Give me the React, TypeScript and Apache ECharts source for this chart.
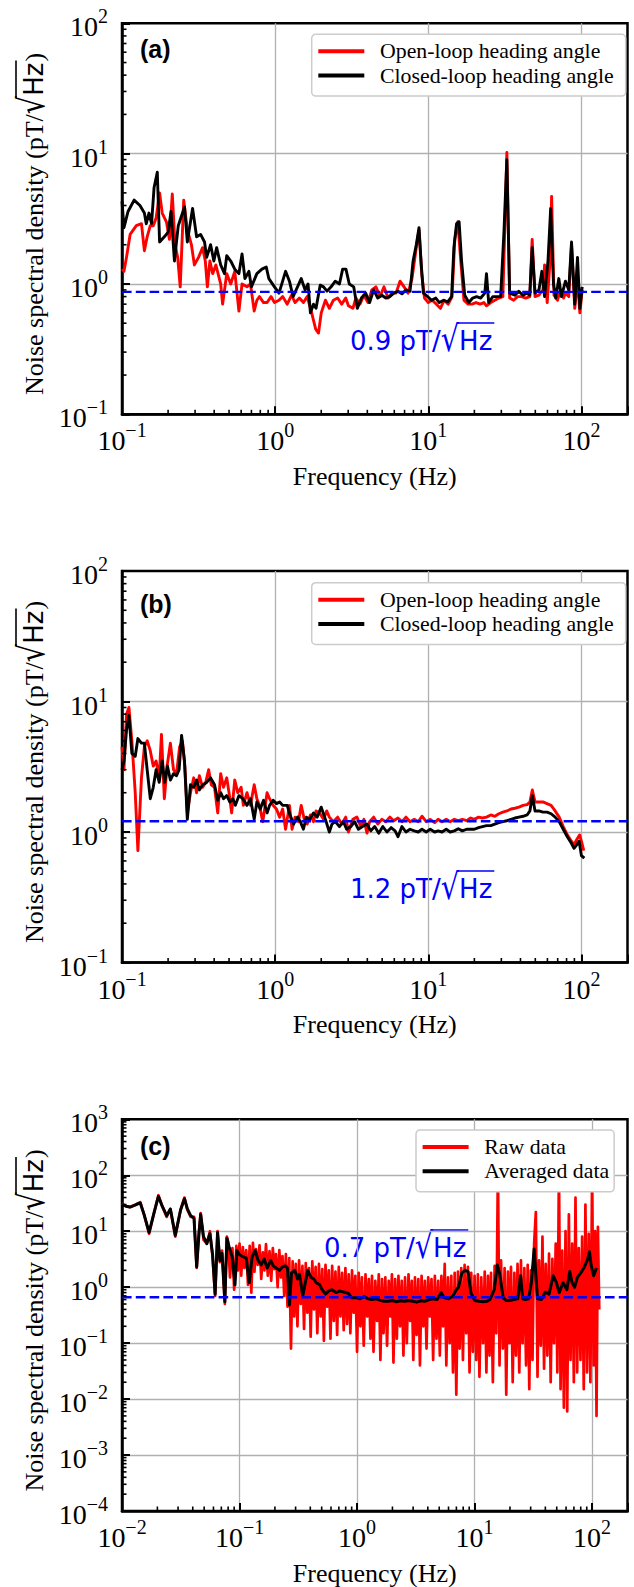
import React, { useEffect, useRef } from "react";
import * as echarts from "echarts";

// ---------------- data ----------------
const openLoopA = [
  [0.1, 1.3], [0.103, 1.25], [0.107, 1.6], [0.113, 2.4], [0.124, 2.8], [0.134, 2.9], [0.14, 1.8], [0.146, 2.3],
  [0.153, 2.8], [0.16, 2.8], [0.167, 3.2], [0.176, 5.0], [0.183, 3.5], [0.195, 3.0], [0.204, 2.2], [0.213, 4.9],
  [0.222, 2.0], [0.231, 1.6], [0.24, 0.95], [0.253, 4.4], [0.267, 2.6], [0.284, 2.0], [0.297, 1.4], [0.316, 1.6],
  [0.336, 1.9], [0.35, 1.5], [0.361, 0.95], [0.375, 1.5], [0.391, 1.2], [0.41, 1.4], [0.441, 1.0], [0.454, 0.7],
  [0.483, 1.2], [0.513, 1.0], [0.545, 1.25], [0.58, 0.62], [0.608, 1.0], [0.655, 0.95], [0.69, 1.0], [0.73, 0.62],
  [0.76, 0.75], [0.79, 0.8], [0.84, 0.72], [0.886, 0.72], [0.94, 0.8], [0.99, 0.72], [1.06, 0.75], [1.12, 0.8],
  [1.2, 0.7], [1.28, 0.82], [1.35, 0.72], [1.44, 0.78], [1.53, 0.72], [1.62, 0.8], [1.72, 0.62], [1.84, 0.45],
  [1.92, 0.42], [2.0, 0.6], [2.13, 0.75], [2.26, 0.65], [2.4, 0.75], [2.56, 0.78], [2.72, 0.7], [2.89, 0.78],
  [3.01, 0.68], [3.22, 0.65], [3.37, 0.78], [3.58, 0.7], [3.8, 0.82], [4.04, 0.72], [4.28, 0.9], [4.55, 0.95],
  [4.84, 0.8], [5.14, 0.95], [5.46, 0.78], [5.79, 0.85], [6.16, 0.85], [6.54, 1.05], [6.95, 0.95], [7.38, 0.85],
  [7.83, 1.1], [8.35, 1.9], [8.7, 2.6], [9.06, 1.2], [9.45, 0.78], [10, 0.72], [10.6, 0.75], [11.3, 0.7],
  [12, 0.65], [12.7, 0.75], [13.5, 0.7], [14.3, 0.8], [14.9, 2.2], [15.6, 3.0], [16.3, 1.5], [17.1, 0.75],
  [18.2, 0.7], [19.3, 0.7], [20.5, 0.72], [21.8, 0.7], [23.1, 0.72], [24, 0.68], [25.6, 0.72], [27.2, 0.75],
  [28.9, 0.78], [30.7, 0.8], [31.7, 3.0], [32.6, 10.2], [34, 0.78], [36.1, 0.75], [38.3, 0.8], [40.7, 0.8],
  [43.3, 0.78], [46, 0.8], [47.7, 2.2], [49.8, 0.8], [52.8, 0.82], [56.1, 0.9], [57.5, 1.4], [59.8, 0.72],
  [62.4, 1.5], [63.9, 4.7], [66.2, 0.82], [69.8, 0.75], [73.1, 0.9], [76.5, 0.78], [78.7, 0.85], [82.7, 0.8],
  [86.2, 2.0], [90.5, 0.65], [94.3, 1.1], [97.7, 0.6], [101.2, 0.9],
];

const closedLoopA = [
  [0.1, 4.3], [0.103, 2.7], [0.1095, 3.6], [0.12, 4.4], [0.131, 4.0], [0.14, 3.5], [0.144, 2.9], [0.15, 3.5],
  [0.156, 2.9], [0.162, 5.5], [0.17, 7.2], [0.176, 2.1], [0.189, 2.3], [0.2, 2.5], [0.209, 3.6], [0.22, 1.5],
  [0.233, 2.8], [0.256, 3.9], [0.267, 2.1], [0.289, 3.8], [0.307, 2.3], [0.326, 2.4], [0.346, 2.1], [0.357, 1.6],
  [0.379, 2.0], [0.398, 1.5], [0.415, 1.9], [0.441, 1.4], [0.467, 1.2], [0.483, 1.65], [0.513, 1.5], [0.545, 1.3],
  [0.58, 1.2], [0.608, 1.7], [0.635, 1.1], [0.674, 1.25], [0.7, 0.95], [0.76, 1.2], [0.82, 1.3], [0.875, 1.35],
  [0.91, 1.1], [0.99, 0.95], [1.06, 0.85], [1.17, 1.25], [1.24, 1.05], [1.31, 0.8], [1.4, 0.95], [1.48, 1.1],
  [1.57, 0.9], [1.64, 1.0], [1.7, 0.6], [1.78, 0.7], [1.85, 0.65], [1.97, 0.98], [2.07, 0.95], [2.18, 0.88],
  [2.32, 0.95], [2.47, 1.05], [2.63, 1.0], [2.76, 1.3], [2.9, 1.3], [3.05, 1.0], [3.26, 0.95], [3.44, 0.65],
  [3.66, 0.78], [3.9, 0.85], [4.14, 0.72], [4.4, 0.9], [4.68, 0.78], [4.97, 0.82], [5.28, 0.78], [5.61, 0.8],
  [5.95, 0.85], [6.34, 0.88], [6.73, 0.84], [7.15, 0.9], [7.6, 0.88], [7.96, 1.5], [8.35, 2.0], [8.7, 2.7],
  [9.0, 1.4], [9.3, 0.85], [9.9, 0.8], [10.5, 0.75], [11.2, 0.78], [11.8, 0.72], [12.6, 0.75], [13.4, 0.73],
  [14.2, 0.8], [14.7, 1.9], [15.3, 2.9], [15.9, 3.0], [16.5, 1.5], [17.3, 0.82], [18.4, 0.72], [19.5, 0.78],
  [20.7, 0.8], [22, 0.78], [23.4, 0.85], [24, 1.2], [24.8, 0.72], [26.4, 0.8], [28, 0.8], [29.7, 0.8],
  [31.2, 2.5], [32.6, 9.0], [34, 0.85], [36.8, 0.82], [39, 0.88], [41.5, 0.82], [44, 0.85], [46, 0.82],
  [47.7, 1.9], [49.8, 0.85], [52.8, 0.9], [55.2, 1.25], [57.5, 0.8], [60.5, 1.5], [63, 3.8], [65.7, 1.0],
  [68, 0.78], [71.2, 1.1], [74, 0.8], [78.7, 1.05], [82.7, 0.9], [86.2, 2.1], [90.5, 0.7], [94.3, 1.6],
  [97.7, 0.65], [101.2, 0.95],
];

const openLoopB = [
  [0.1, 4.5], [0.103, 3.0], [0.107, 8.0], [0.111, 9.0], [0.116, 5.0], [0.122, 2.0], [0.127, 0.72], [0.134, 2.6],
  [0.14, 4.5], [0.146, 5.0], [0.153, 4.2], [0.16, 3.2], [0.167, 3.5], [0.175, 2.6], [0.181, 5.6], [0.189, 1.8],
  [0.197, 3.2], [0.207, 4.8], [0.217, 3.0], [0.227, 2.8], [0.238, 4.5], [0.248, 5.0], [0.257, 3.2], [0.267, 1.4],
  [0.28, 2.0], [0.294, 2.6], [0.307, 2.0], [0.32, 2.7], [0.336, 2.2], [0.352, 2.4], [0.368, 3.0], [0.383, 2.3],
  [0.402, 2.2], [0.422, 1.4], [0.441, 2.8], [0.46, 2.2], [0.483, 2.6], [0.5, 2.0], [0.52, 1.4], [0.545, 2.5],
  [0.57, 2.0], [0.6, 2.2], [0.62, 1.6], [0.655, 2.0], [0.69, 1.6], [0.73, 2.3], [0.76, 1.8], [0.79, 1.6],
  [0.83, 1.2], [0.886, 2.0], [0.92, 1.8], [0.97, 1.6], [1.02, 1.5], [1.07, 1.3], [1.12, 1.5], [1.17, 1.05],
  [1.24, 1.6], [1.29, 1.05], [1.35, 1.3], [1.42, 1.2], [1.48, 1.6], [1.55, 1.25], [1.62, 1.15], [1.7, 1.35],
  [1.78, 1.2], [1.85, 1.45], [1.95, 1.4], [2.07, 1.25], [2.17, 1.45], [2.26, 1.3], [2.4, 1.2], [2.56, 1.3],
  [2.72, 1.15], [2.89, 1.3], [3.01, 1.0], [3.22, 1.25], [3.42, 1.3], [3.63, 1.1], [3.8, 1.25], [3.98, 0.98],
  [4.14, 1.2], [4.4, 1.3], [4.68, 1.15], [4.97, 1.25], [5.28, 1.2], [5.61, 1.3], [5.95, 1.22], [6.34, 1.28],
  [6.73, 1.2], [7.15, 1.3], [7.6, 1.2], [8.1, 1.25], [8.6, 1.2], [9.1, 1.32], [9.7, 1.2], [10.3, 1.25],
  [11, 1.18], [11.6, 1.25], [12.3, 1.2], [13.1, 1.25], [13.9, 1.2], [14.8, 1.25], [15.7, 1.22], [16.7, 1.25],
  [17.8, 1.22], [18.9, 1.28], [20, 1.25], [21.3, 1.3], [22.6, 1.28], [24, 1.3], [25.6, 1.35], [27.2, 1.32],
  [28.9, 1.38], [30.7, 1.42], [32.6, 1.45], [34.7, 1.5], [36.8, 1.52], [39.1, 1.55], [41.6, 1.6], [44.2, 1.62],
  [46.1, 1.7], [47.8, 2.1], [49.8, 1.7], [52.8, 1.7], [56.1, 1.7], [59.6, 1.65], [63.4, 1.6], [67.4, 1.45],
  [71.6, 1.3], [76.1, 1.1], [80.9, 0.95], [86, 0.85], [89.5, 0.8], [93.5, 0.88], [97.3, 0.95], [100, 0.85],
  [103.6, 0.72],
];

const closedLoopB = [
  [0.1, 3.0], [0.103, 3.5], [0.107, 6.0], [0.111, 7.8], [0.116, 4.0], [0.122, 3.8], [0.127, 5.2], [0.134, 4.8],
  [0.14, 4.8], [0.146, 3.0], [0.153, 1.8], [0.16, 2.2], [0.167, 3.0], [0.175, 2.4], [0.183, 3.5], [0.19, 2.4],
  [0.198, 3.2], [0.207, 2.5], [0.217, 2.8], [0.227, 2.7], [0.236, 3.0], [0.245, 5.5], [0.256, 3.5], [0.267, 1.25],
  [0.28, 2.3], [0.294, 2.2], [0.307, 2.5], [0.32, 2.1], [0.336, 2.3], [0.357, 2.4], [0.379, 2.6], [0.402, 2.3],
  [0.422, 1.75], [0.441, 2.0], [0.46, 1.8], [0.483, 1.9], [0.506, 1.7], [0.53, 1.8], [0.55, 1.6], [0.58, 1.9],
  [0.615, 1.8], [0.655, 1.6], [0.69, 1.8], [0.73, 1.25], [0.76, 1.7], [0.8, 1.5], [0.84, 1.75], [0.886, 1.4],
  [0.92, 1.6], [0.97, 1.75], [1.02, 1.65], [1.07, 1.7], [1.12, 1.6], [1.2, 1.6], [1.25, 1.35], [1.32, 1.15],
  [1.4, 1.3], [1.46, 1.2], [1.53, 1.05], [1.6, 1.3], [1.68, 1.25], [1.78, 1.4], [1.88, 1.3], [2.0, 1.55],
  [2.13, 1.25], [2.26, 1.0], [2.35, 1.15], [2.47, 1.2], [2.63, 1.1], [2.79, 1.2], [2.93, 1.05], [3.12, 1.1],
  [3.3, 1.2], [3.5, 1.05], [3.72, 1.1], [3.98, 1.15], [4.21, 1.02], [4.47, 1.1], [4.75, 0.98], [5.05, 1.1],
  [5.37, 1.0], [5.72, 1.08], [6.07, 1.02], [6.34, 0.92], [6.73, 1.1], [7.15, 1.0], [7.6, 1.05], [8.1, 1.02],
  [8.6, 1.0], [9.1, 1.05], [9.7, 1.0], [10.3, 1.05], [11, 1.0], [11.6, 1.02], [12.3, 1.0], [13.1, 1.05],
  [13.9, 1.0], [14.8, 1.02], [15.7, 1.06], [16.7, 1.02], [17.8, 1.05], [18.9, 1.05], [20, 1.05], [21.3, 1.08],
  [22.6, 1.1], [24, 1.12], [25.6, 1.12], [27.2, 1.15], [28.9, 1.18], [30.7, 1.2], [32.6, 1.22], [34.7, 1.25],
  [36.8, 1.28], [39.1, 1.3], [41.6, 1.32], [44.2, 1.35], [46.1, 1.45], [47.8, 1.9], [49.8, 1.45], [52.8, 1.45],
  [56.1, 1.42], [59.6, 1.42], [63.4, 1.38], [67.4, 1.3], [71.6, 1.2], [76.1, 1.05], [80.9, 0.92], [86, 0.82],
  [89.5, 0.75], [93.5, 0.8], [96.7, 0.85], [100, 0.66], [104.5, 0.63],
];

const rawDataC = [
  [0.01, 31], [0.0108, 28], [0.0117, 27], [0.0132, 30], [0.0143, 33], [0.0154, 20], [0.017, 9], [0.0188, 22],
  [0.0204, 44], [0.022, 28], [0.024, 18], [0.0258, 25], [0.0284, 8], [0.0315, 24], [0.034, 40], [0.036, 24],
  [0.0384, 18], [0.041, 18], [0.0432, 2.2], [0.045, 9], [0.0467, 21], [0.0494, 7], [0.0527, 6], [0.056, 10],
  [0.059, 3.5], [0.062, 0.7], [0.065, 10], [0.068, 2.8], [0.071, 4.5], [0.075, 0.5], [0.078, 8],
  [0.08, 6.5], [0.083, 1.5], [0.087, 5.0], [0.09, 0.9], [0.094, 5.5], [0.097, 2.0],
  [0.1, 6.0], [0.1033, 1.6], [0.1067, 5.2], [0.11, 2.2], [0.114, 4.6], [0.118, 1.1], [0.122, 5.5], [0.126, 0.8],
  [0.13, 6.2], [0.134, 1.9], [0.138, 4.8], [0.143, 2.5], [0.148, 5.6], [0.153, 1.4], [0.158, 4.2], [0.163, 2.0],
  [0.168, 5.9], [0.174, 1.6], [0.18, 4.4], [0.186, 1.3], [0.192, 5.0], [0.198, 2.1], [0.204, 3.9], [0.211, 1.0],
  [0.218, 4.6], [0.225, 1.5], [0.232, 3.6], [0.24, 0.7], [0.248, 3.9], [0.256, 0.45], [0.265, 3.3], [0.274, 0.08],
  [0.283, 2.9], [0.292, 0.3], [0.301, 2.6], [0.311, 0.2], [0.321, 3.0], [0.332, 0.5], [0.343, 2.4], [0.354, 0.18],
  [0.366, 2.7], [0.378, 0.35], [0.39, 2.2], [0.403, 0.13], [0.416, 2.9], [0.43, 0.4], [0.444, 2.3], [0.459, 0.15],
  [0.474, 2.6], [0.49, 0.3], [0.506, 2.1], [0.522, 0.11], [0.539, 2.5], [0.557, 0.45], [0.575, 2.0], [0.594, 0.12],
  [0.614, 2.4], [0.634, 0.25], [0.655, 1.9], [0.677, 0.14], [0.699, 2.3], [0.722, 0.3], [0.746, 1.8], [0.77, 0.17],
  [0.796, 2.2], [0.822, 0.22], [0.849, 1.7], [0.877, 0.15], [0.906, 2.0], [0.936, 0.35], [0.967, 1.6],
  [1.0, 0.07], [1.033, 1.8], [1.067, 0.2], [1.1, 1.5], [1.14, 0.09], [1.18, 1.7], [1.22, 0.3], [1.26, 1.4],
  [1.3, 0.12], [1.34, 1.6], [1.38, 0.07], [1.43, 1.3], [1.48, 0.25], [1.53, 1.7], [1.58, 0.05], [1.63, 1.4],
  [1.68, 0.15], [1.74, 1.5], [1.8, 0.09], [1.86, 1.3], [1.92, 0.3], [1.98, 1.7], [2.04, 0.045], [2.11, 1.4],
  [2.18, 0.12], [2.25, 1.6], [2.32, 0.2], [2.4, 1.3], [2.48, 0.06], [2.56, 1.5], [2.65, 0.1], [2.74, 1.7],
  [2.83, 0.25], [2.92, 1.3], [3.01, 0.05], [3.11, 1.5], [3.21, 0.14], [3.32, 1.4], [3.43, 0.04], [3.54, 1.6],
  [3.66, 0.2], [3.78, 1.3], [3.9, 0.08], [4.03, 1.5], [4.16, 0.3], [4.3, 1.4], [4.44, 0.05], [4.59, 1.6],
  [4.74, 0.12], [4.9, 1.3], [5.06, 0.06], [5.22, 1.6], [5.39, 0.2], [5.57, 2.6], [5.75, 0.04], [5.94, 1.5],
  [6.14, 0.1], [6.34, 1.6], [6.55, 0.03], [6.77, 1.8], [6.99, 0.012], [7.22, 1.9], [7.46, 0.08], [7.7, 2.2],
  [7.96, 0.05], [8.22, 2.5], [8.49, 0.15], [8.77, 2.3], [9.06, 0.03], [9.36, 1.8], [9.67, 0.07],
  [10.0, 1.6], [10.33, 0.05], [10.67, 1.7], [11.0, 0.025], [11.4, 1.5], [11.8, 0.1], [12.2, 1.9], [12.6, 0.03],
  [13.0, 1.6], [13.4, 0.06], [13.8, 1.8], [14.3, 0.02], [14.8, 2.4], [15.3, 0.15], [15.8, 150], [16.3, 0.04],
  [16.8, 3.0], [17.4, 0.08], [18.0, 2.2], [18.6, 0.012], [19.2, 1.9], [19.8, 0.1], [20.4, 2.3], [21.1, 0.02],
  [21.8, 1.8], [22.5, 0.06], [23.2, 2.6], [24.0, 0.03], [24.8, 3.0], [25.6, 0.1], [26.5, 2.2], [27.4, 0.04],
  [28.3, 2.5], [29.2, 0.015], [30.1, 2.0], [31.1, 0.05], [32.1, 6.0], [33.2, 22], [34.3, 0.025], [35.4, 3.0],
  [36.6, 0.09], [37.8, 8.0], [39.0, 0.035], [40.3, 2.6], [41.6, 0.06], [43.0, 4.0], [44.4, 0.02], [45.9, 3.2],
  [47.4, 0.1], [49.0, 6.0], [50.6, 0.03], [52.2, 150], [53.9, 0.015], [55.7, 4.5], [57.5, 0.007], [59.4, 10],
  [61.4, 0.006], [63.4, 20], [65.5, 0.05], [67.7, 6.0], [69.9, 0.02], [72.2, 40], [74.6, 0.03], [77.0, 5.0],
  [79.6, 0.05], [82.2, 8.0], [84.9, 0.015], [87.7, 30], [90.6, 0.03], [93.6, 9.0], [96.7, 0.02], [100, 120],
  [103, 0.04], [106, 10], [109, 0.005], [112, 12], [115, 0.4],
];

const averagedDataC = [
  [0.01, 30], [0.0108, 28], [0.0117, 27], [0.0132, 30], [0.0143, 32], [0.0154, 20], [0.017, 9.5], [0.0188, 22],
  [0.0204, 42], [0.022, 28], [0.024, 19], [0.0258, 25], [0.0284, 8.5], [0.0315, 24], [0.034, 38], [0.036, 25],
  [0.0384, 19], [0.041, 17], [0.0432, 2.3], [0.045, 8], [0.0467, 20], [0.0494, 8], [0.0527, 6], [0.056, 9],
  [0.059, 3.8], [0.062, 0.75], [0.065, 9.5], [0.068, 3.0], [0.071, 4], [0.075, 0.55], [0.078, 7.5], [0.082, 5.0],
  [0.0866, 3.5], [0.0915, 1.1], [0.095, 4.5], [0.1, 3.8], [0.107, 3.5], [0.114, 3.3], [0.121, 1.2], [0.128, 3.5],
  [0.136, 4.5], [0.144, 3.0], [0.153, 2.5], [0.162, 3.2], [0.172, 2.2], [0.184, 3.0], [0.194, 2.4], [0.205, 2.2],
  [0.219, 2.0], [0.231, 2.3], [0.246, 2.4], [0.256, 2.2], [0.266, 0.48], [0.277, 1.8], [0.295, 2.0], [0.312, 1.4],
  [0.324, 1.7], [0.345, 0.7], [0.357, 1.0], [0.38, 2.0], [0.405, 1.5], [0.428, 1.4], [0.45, 1.2], [0.48, 1.1],
  [0.505, 0.9], [0.54, 0.75], [0.57, 0.85], [0.61, 0.9], [0.66, 0.8], [0.71, 0.85], [0.77, 0.82], [0.84, 0.78],
  [0.9, 0.65], [0.98, 0.65], [1.06, 0.62], [1.15, 0.68], [1.24, 0.62], [1.34, 0.6], [1.45, 0.62], [1.58, 0.58],
  [1.7, 0.56], [1.85, 0.56], [2.0, 0.58], [2.16, 0.55], [2.34, 0.57], [2.54, 0.56], [2.75, 0.58], [2.97, 0.56],
  [3.22, 0.54], [3.48, 0.57], [3.77, 0.56], [4.1, 0.6], [4.4, 0.62], [4.8, 0.6], [5.2, 0.8], [5.5, 0.65],
  [6.0, 0.62], [6.5, 0.68], [7.0, 0.9], [7.3, 1.0], [7.8, 1.8], [8.3, 2.0], [8.8, 1.9], [9.3, 0.8],
  [10, 0.58], [10.9, 0.56], [11.8, 0.55], [12.8, 0.56], [13.5, 0.6], [14.7, 0.9], [15.6, 2.5], [16.3, 1.8],
  [17.5, 0.65], [18.5, 0.58], [20, 0.58], [21.6, 0.6], [23.3, 0.62], [24.6, 1.6], [25.7, 0.62], [27, 0.6],
  [28.8, 0.62], [30.4, 1.2], [32.1, 4.8], [34.3, 0.62], [37, 0.6], [40, 0.82], [43, 0.75], [46.7, 1.6],
  [49.7, 1.2], [52.5, 0.8], [56.6, 1.2], [61, 0.9], [64.5, 1.9], [67.6, 1.2], [71, 1.0], [75, 1.5],
  [80, 1.8], [85, 2.2], [91, 3.0], [95, 4.3], [98, 2.5], [103, 1.6], [109, 2.2],
];

const floorA = 0.87;
const floorB = 1.21;
const floorC = 0.66;
const floorTexts = ["0.9 pT/√Hz", "1.2 pT/√Hz", "0.7 pT/√Hz"];
const legendNamesAB = ["Open-loop heading angle", "Closed-loop heading angle"];
const legendNamesC = ["Raw data", "Averaged data"];
const panelTags = ["(a)", "(b)", "(c)"];
const xAxisTitle = "Frequency (Hz)";
const yAxisTitleMain = "Noise spectral density (pT/";
const yAxisTitleUnit = "√Hz";
const yAxisTitleEnd = ")";

// ---------------- layout / style ----------------
const SERIF = "Liberation Serif, Times New Roman, serif";
const SANS = "DejaVu Sans, sans-serif";
const ARIAL = "Liberation Sans, Arial, sans-serif";
const RED = "#ff0000";
const BLACK = "#000000";
const BLUE = "#0000ff";
const GRID_LEFT = 122;
const GRID_WIDTH = 505.5;
const ROOT_SIZE = 36;      // enlarged radical glyph
const ROOT_SCALE_X = 0.8;  // narrowed radical

const panels = [
  { top: 23.3, height: 391, xMin: 0.1, xMax: 200, yMin: 0.1, yMax: 100, tagCy: 48.8, noteX: 350, noteBase: 350,
    legendLeft: 311.7, legendTop: 34.3, legendPadR: 12, yTitleCy: 224.5, names: legendNamesAB,
    series: [openLoopA, closedLoopA], widths: [2.9, 2.9], floor: floorA },
  { top: 571, height: 391.5, xMin: 0.1, xMax: 200, yMin: 0.1, yMax: 100, tagCy: 604, noteX: 350, noteBase: 898,
    legendLeft: 311.7, legendTop: 582.7, legendPadR: 12, yTitleCy: 772.5, names: legendNamesAB,
    series: [openLoopB, closedLoopB], widths: [2.9, 2.9], floor: floorB },
  { top: 1119.3, height: 391.7, xMin: 0.01, xMax: 200, yMin: 1e-4, yMax: 1e3, tagCy: 1145.8, noteX: 324, noteBase: 1257,
    legendLeft: 416, legendTop: 1130, legendPadR: 5, yTitleCy: 1321, names: legendNamesC,
    series: [rawDataC, averagedDataC], widths: [2.7, 3.0], floor: floorC },
];

let measureCtx: CanvasRenderingContext2D | null = null;
function measure(text: string, font: string) {
  if (!measureCtx) measureCtx = document.createElement("canvas").getContext("2d");
  measureCtx!.font = font;
  return measureCtx!.measureText(text).width;
}

function logLabel(v: number) {
  const l = Math.log10(v);
  const e = Math.round(l);
  if (Math.abs(l - e) > 1e-6) return "";
  return e < 0 ? `{b|10}{s|\u2212${-e}}` : `{b|10}{s|${e}}`;
}

const tickRich = {
  b: { fontFamily: SERIF, fontSize: 28, lineHeight: 22, color: BLACK },
  s: { fontFamily: SERIF, fontSize: 20, lineHeight: 1, height: 1, verticalAlign: "top", color: BLACK },
};

function minorTicks(min: number, max: number) {
  const out: number[] = [];
  for (let e = Math.floor(Math.log10(min)); e <= Math.ceil(Math.log10(max)); e++) {
    for (let k = 2; k <= 9; k++) {
      const v = k * Math.pow(10, e);
      if (v > min * 1.0001 && v < max * 0.9999) out.push(v);
    }
  }
  return out;
}

// "prefix √Hz" laid out along local x, with its baseline at local y = baseline
function rootLabel(pre: string, post: string, fs: number, x: number, baseline: number, color: string, preFamily: string) {
  const wPre = measure(pre, `${fs}px ${preFamily}`);
  const wR = measure("√", `${ROOT_SIZE}px ${SANS}`) * ROOT_SCALE_X;
  const wPost = measure(post, `${fs}px ${SANS}`);
  const xr = x + wPre;
  const xh = xr + wR;
  const oy = baseline - 27;
  const els: any[] = [
    {
      type: "text", x, y: baseline - 0.34 * fs,
      style: { text: pre, fontFamily: preFamily, fontSize: fs, fill: color, align: "left", verticalAlign: "middle",
        textAlign: "left", textVerticalAlign: "middle" },
    },
    {
      type: "text", x: xr, y: baseline - 0.346 * ROOT_SIZE + 1, scaleX: ROOT_SCALE_X,
      style: { text: "√", fontFamily: SANS, fontSize: ROOT_SIZE, fill: color, align: "left", verticalAlign: "middle",
        textAlign: "left", textVerticalAlign: "middle" },
    },
    {
      type: "text", x: xh, y: baseline - 0.346 * fs,
      style: { text: post, fontFamily: SANS, fontSize: fs, fill: color, align: "left", verticalAlign: "middle",
        textAlign: "left", textVerticalAlign: "middle" },
    },
    {
      type: "line",
      shape: { x1: xr + wR * 0.9, y1: oy, x2: xh + wPost + 2, y2: oy },
      style: { stroke: color, lineWidth: 1.6 },
    },
  ];
  return els;
}

function sqrtNote(label: string, x: number, baseline: number) {
  const idx = label.indexOf("√");
  return { type: "group", z: 50, children: rootLabel(label.slice(0, idx), label.slice(idx + 1), 26, x, baseline, BLUE, SANS) };
}

function yTitle(cy: number) {
  const fs = 26;
  const wA = measure(yAxisTitleMain, `${fs}px ${SERIF}`);
  const wR = measure("√", `${ROOT_SIZE}px ${SANS}`) * ROOT_SCALE_X;
  const wH = measure(yAxisTitleUnit.slice(1), `${fs}px ${SANS}`);
  const wP = measure(yAxisTitleEnd, `${fs}px ${SERIF}`);
  const W = wA + wR + wH + wP;
  const x0 = -W / 2;
  const els = rootLabel(yAxisTitleMain, yAxisTitleUnit.slice(1), fs, x0, 0, BLACK, SERIF);
  els.push({
    type: "text", x: x0 + wA + wR + wH + 1, y: -0.34 * fs,
    style: { text: yAxisTitleEnd, fontFamily: SERIF, fontSize: fs, fill: BLACK, align: "left", verticalAlign: "middle",
      textAlign: "left", textVerticalAlign: "middle" },
  });
  return { type: "group", x: 43, y: cy, rotation: Math.PI / 2, z: 50, children: els };
}

function buildOption() {
  const grid = panels.map((p) => ({
    left: GRID_LEFT, top: p.top, width: GRID_WIDTH, height: p.height, show: true,
    borderColor: BLACK, borderWidth: 2.5, backgroundColor: "transparent", containLabel: false,
  }));

  const xAxis = panels.map((p, i) => ({
    type: "log", logBase: 10, gridIndex: i, min: p.xMin, max: p.xMax,
    axisLine: { show: true, onZero: false, lineStyle: { color: BLACK, width: 2.5 } },
    axisTick: { show: true, inside: true, length: 8, lineStyle: { color: BLACK, width: 2 } },
    axisLabel: { formatter: logLabel, rich: tickRich, margin: 15.5, showMinLabel: true, showMaxLabel: true, hideOverlap: false },
    splitLine: { show: true, showMinLine: false, showMaxLine: false, lineStyle: { color: "#b0b0b0", width: 1.3 } },
    name: xAxisTitle, nameLocation: "middle", nameGap: 62,
    nameTextStyle: { fontFamily: SERIF, fontSize: 26, color: BLACK, verticalAlign: "middle", lineHeight: 26 },
  }));

  const yAxis = panels.map((p, i) => ({
    type: "log", logBase: 10, gridIndex: i, min: p.yMin, max: p.yMax,
    axisLine: { show: true, onZero: false, lineStyle: { color: BLACK, width: 2.5 } },
    axisTick: { show: true, inside: true, length: 8, lineStyle: { color: BLACK, width: 2 } },
    axisLabel: { formatter: logLabel, rich: tickRich, margin: 14, padding: [7, 0, 0, 0],
      showMinLabel: true, showMaxLabel: true, hideOverlap: false },
    splitLine: { show: true, showMinLine: false, showMaxLine: false, lineStyle: { color: "#b0b0b0", width: 1.3 } },
  }));

  const series: any[] = [];
  panels.forEach((p, i) => {
    series.push({
      type: "line", name: p.names[0], xAxisIndex: i, yAxisIndex: i, data: p.series[0],
      showSymbol: false, symbol: "none", silent: true, z: 2,
      lineStyle: { color: RED, width: p.widths[0], join: "round" }, itemStyle: { color: RED },
    });
    series.push({
      type: "line", name: p.names[1], xAxisIndex: i, yAxisIndex: i, data: p.series[1],
      showSymbol: false, symbol: "none", silent: true, z: 3,
      lineStyle: { color: BLACK, width: p.widths[1], join: "round" }, itemStyle: { color: BLACK },
    });
    series.push({
      type: "line", name: "floor" + i, xAxisIndex: i, yAxisIndex: i,
      data: [[p.xMin, p.floor], [p.xMax, p.floor]],
      showSymbol: false, symbol: "none", silent: true, z: 4,
      lineStyle: { color: BLUE, width: 2.4, type: [9.6, 4.2] },
    });
    const mx = minorTicks(p.xMin, p.xMax).map((v) => [v, p.yMin, 0]);
    const my = minorTicks(p.yMin, p.yMax).map((v) => [p.xMin, v, 1]);
    series.push({
      type: "custom", xAxisIndex: i, yAxisIndex: i, silent: true, z: 6,
      data: mx.concat(my),
      encode: { x: 0, y: 1 },
      renderItem: (_params: any, api: any) => {
        const pt = api.coord([api.value(0), api.value(1)]);
        const horiz = api.value(2) === 1;
        return {
          type: "line",
          shape: horiz
            ? { x1: pt[0], y1: pt[1], x2: pt[0] + 4.5, y2: pt[1] }
            : { x1: pt[0], y1: pt[1], x2: pt[0], y2: pt[1] - 4.5 },
          style: { stroke: BLACK, lineWidth: 1.6 },
        };
      },
    });
  });

  const legend = panels.map((p) => ({
    orient: "vertical", left: p.legendLeft, top: p.legendTop,
    itemWidth: 46, itemHeight: 4, itemGap: 2.3, icon: "rect",
    padding: [6, p.legendPadR, 9.5, 6.6],
    backgroundColor: "#ffffff", borderColor: "#cccccc", borderWidth: 1.5, borderRadius: 4,
    textStyle: { fontFamily: SERIF, fontSize: 21.8, color: BLACK, lineHeight: 21, padding: [0, 0, 0, 10.7] },
    data: p.names, selectedMode: false, z: 10,
  }));

  const graphic: any[] = [];
  panels.forEach((p, i) => {
    graphic.push({
      type: "text", x: 140, y: p.tagCy, z: 50,
      style: { text: panelTags[i], fontFamily: ARIAL, fontWeight: "bold", fontSize: 25, fill: BLACK,
        align: "left", verticalAlign: "middle", textAlign: "left", textVerticalAlign: "middle" },
    });
    graphic.push(sqrtNote(floorTexts[i], p.noteX, p.noteBase));
    graphic.push(yTitle(p.yTitleCy));
  });

  return { animation: false, backgroundColor: "#ffffff", grid, xAxis, yAxis, legend, series, graphic };
}

export default function App() {
  const ref = useRef<HTMLDivElement>(null);
  useEffect(() => {
    document.body.style.margin = "0";
    const chart = echarts.init(ref.current!, undefined, { renderer: "svg", width: 634, height: 1587 });
    chart.setOption(buildOption() as any);
    return () => chart.dispose();
  }, []);
  return <div ref={ref} style={{ width: 634, height: 1587 }} />;
}
